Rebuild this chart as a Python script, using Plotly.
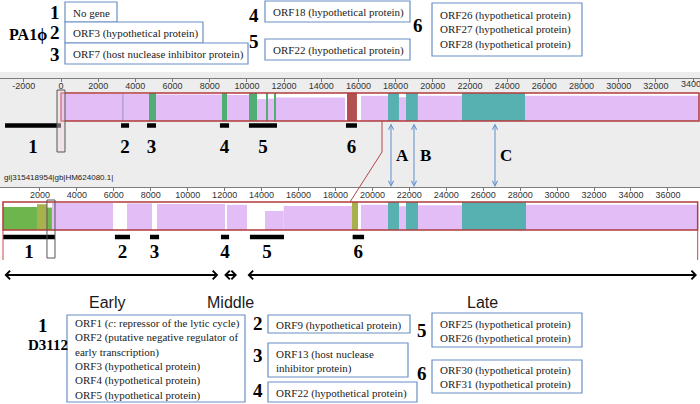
import plotly.graph_objects as go

# ---------------- data ----------------
top_genome_len = 34320      # PA1phi, bp
bot_genome_len = 37611      # D3112, bp

top_ticks = [-2000, 0, 2000, 4000, 6000, 8000, 10000, 12000, 14000, 16000, 18000,
             20000, 22000, 24000, 26000, 28000, 30000, 32000, 34000]
bot_ticks = [2000, 4000, 6000, 8000, 10000, 12000, 14000, 16000, 18000, 20000,
             22000, 24000, 26000, 28000, 30000, 32000, 34000, 36000]

# aligned blocks / similarity segments, PA1phi track
top_seg_start = [0, 3300, 3370, 4734, 5110, 8660, 8930, 10113, 10543, 11030, 11135,
                 11460, 11565, 15385, 16140, 17590, 18180, 18560, 19200, 21570, 24960]
top_seg_end = [3300, 3370, 4734, 5110, 8660, 8930, 10113, 10543, 11030, 11135, 11460,
               11565, 15280, 15920, 17590, 18180, 18560, 19200, 21570, 24960, 34320]
top_seg_kind = ['purple', 'thin', 'purple', 'green', 'purple', 'green', 'purple', 'green',
                'purple', 'green', 'purple', 'green', 'purple', 'red', 'purple', 'teal',
                'purple', 'teal', 'purple', 'teal', 'purple']
top_seg_height = [0.97, 0.97, 0.96, 1.0, 0.95, 1.0, 0.93, 1.0, 0.78, 1.0, 0.8, 1.0,
                  0.84, 1.0, 0.9, 1.0, 0.85, 1.0, 0.9, 1.0, 0.9]

# D3112 track
bot_seg_start = [0, 1840, 2380, 2650, 6715, 8338, 12130, 14185, 15200, 18895, 19380,
                 20845, 21440, 21820, 22470, 24850, 28316]
bot_seg_end = [1840, 2380, 2650, 5955, 8067, 12020, 13210, 15200, 18895, 19220, 20845,
               21440, 21820, 22470, 24850, 28316, 37611]
bot_seg_kind = ['lgreen', 'olive', 'lgreen', 'purple', 'purple', 'purple', 'purple',
                'purple', 'purple', 'olive', 'purple', 'teal', 'purple', 'teal', 'purple',
                'teal', 'purple']
bot_seg_height = [0.82, 0.92, 0.8, 0.96, 0.95, 0.93, 0.9, 0.68, 0.86, 1.0, 0.9, 1.0,
                  0.85, 1.0, 0.88, 1.0, 0.9]

# numbered regions (black bars)
top_orf_start = [-3010, 3230, 4630, 8550, 10110, 15330]
top_orf_end = [0, 3660, 5110, 9040, 11620, 15920]
bot_orf_start = [0, 6060, 7960, 11800, 13370, 18930]
bot_orf_end = [2815, 6875, 8450, 12240, 15215, 19550]
orf_labels = ['1', '2', '3', '4', '5', '6']

# LCB connector and homologous blocks A, B, C
lcb_top_bp = 17267
lcb_bot_bp = 18787
abc_labels = ['A', 'B', 'C']
abc_top_bp = [17752, 18989, 23346]

# transcription phases on D3112
phase_names = ['Early', 'Middle', 'Late']
phase_start = [0, 11895, 13157]
phase_end = [11657, 12669, 37575]
phase_label_bp = [5630, 12290, 25940]

cursor_top_bp = [-215, 215]
cursor_bot_bp = [2380, 2815]

genome_label = 'gi|315418954|gb|HM624080.1|'

top_box_nums = ['1', '2', '3', '4', '5', '6']
top_box_texts = [
    'No gene',
    'ORF3 (hypothetical protein)',
    'ORF7 (host nuclease inhibitor protein)',
    'ORF18 (hypothetical protein)',
    'ORF22 (hypothetical protein)',
    'ORF26 (hypothetical protein)<br>ORF27 (hypothetical protein)<br>ORF28 (hypothetical protein)',
]
bot_box_nums = ['1', '2', '3', '4', '5', '6']
bot_box_texts = [
    'ORF1 (<i>c</i>: repressor of the lytic cycle)<br>ORF2 (putative negative regulator of<br>'
    'early transcription)<br>ORF3 (hypothetical protein)<br>ORF4 (hypothetical protein)<br>'
    'ORF5 (hypothetical protein)',
    'ORF9 (hypothetical protein)',
    'ORF13 (host nuclease<br>inhibitor protein)',
    'ORF22 (hypothetical protein)',
    'ORF25 (hypothetical protein)<br>ORF26 (hypothetical protein)',
    'ORF30 (hypothetical protein)<br>ORF31 (hypothetical protein)',
]

# ---------------- layout geometry (pixels) ----------------
W, H = 700, 404
KIND_COLOR = {
    'purple': '#e2bdf6', 'thin': '#b9a3cf', 'green': '#4fae72', 'teal': '#56b1b0',
    'red': '#b2504f', 'olive': '#a7b24f', 'lgreen': '#6db54c',
}
SERIF = 'Liberation Serif'
SANS = 'Liberation Sans'
BOX_BLUE = '#6b8fc6'
RED = '#b33b3b'

# x scales: px = origin + bp * scale
TOP_ORIG, TOP_SCALE = 61.0, 0.01859
BOT_ORIG, BOT_SCALE = 3.0, 0.01847
top_range = [(0 - TOP_ORIG) / TOP_SCALE, (W - TOP_ORIG) / TOP_SCALE]
bot_range = [(0 - BOT_ORIG) / BOT_SCALE, (W - BOT_ORIG) / BOT_SCALE]

TOP_BOX = (93, 121)     # track top / bottom in px
BOT_BOX = (202, 230)
TRACK_H = 28.0
TOP_DOM = (88, 192)
BOT_DOM = (194, 315)


def ty(py):
    return (TOP_BOX[1] - py) / TRACK_H


def by(py):
    return (BOT_BOX[1] - py) / TRACK_H


def pxx(px):
    return px / W


def pyy(py):
    return 1 - py / H


def top_px(bp):
    return TOP_ORIG + bp * TOP_SCALE


def bot_px(bp):
    return BOT_ORIG + bp * BOT_SCALE


fig = go.Figure()

# similarity blocks
for starts, ends, kinds, hts, xa, ya in [
    (top_seg_start, top_seg_end, top_seg_kind, top_seg_height, 'x', 'y'),
    (bot_seg_start, bot_seg_end, bot_seg_kind, bot_seg_height, 'x2', 'y2'),
]:
    fig.add_trace(go.Bar(
        x=[(s + e) / 2 for s, e in zip(starts, ends)],
        y=hts, width=[e - s for s, e in zip(starts, ends)], base=0,
        marker=dict(color=[KIND_COLOR[k] for k in kinds], line=dict(width=0)),
        xaxis=xa, yaxis=ya, hoverinfo='skip', showlegend=False))

# black region bars + numbers
for starts, ends, xa, ya, bar_y, lab_y in [
    (top_orf_start, top_orf_end, 'x', 'y', ty(125.5), ty(148)),
    (bot_orf_start, bot_orf_end, 'x2', 'y2', by(237), by(253)),
]:
    xs, ys = [], []
    for s, e in zip(starts, ends):
        xs += [s, e, None]
        ys += [bar_y, bar_y, None]
    fig.add_trace(go.Scatter(x=xs, y=ys, mode='lines', line=dict(color='black', width=4.5),
                             xaxis=xa, yaxis=ya, hoverinfo='skip', showlegend=False))
    fig.add_trace(go.Scatter(
        x=[(s + e) / 2 for s, e in zip(starts, ends)], y=[lab_y] * len(starts),
        mode='text', text=['<b>%s</b>' % t for t in orf_labels],
        textfont=dict(family=SERIF, size=19, color='black'),
        xaxis=xa, yaxis=ya, hoverinfo='skip', showlegend=False, cliponaxis=False))

shapes = []
# grey Mauve panel
shapes.append(dict(type='rect', xref='paper', yref='paper', x0=0, x1=1,
                   y0=pyy(187), y1=pyy(72), fillcolor='#ededed', line=dict(width=0), layer='below'))
# white interiors of the tracks
shapes.append(dict(type='rect', xref='x', yref='y', x0=0, x1=top_genome_len, y0=0, y1=1,
                   fillcolor='white', line=dict(width=0), layer='below'))
shapes.append(dict(type='rect', xref='x2', yref='y2', x0=0, x1=bot_genome_len, y0=0, y1=1,
                   fillcolor='white', line=dict(width=0), layer='below'))
# red track borders
shapes.append(dict(type='rect', xref='x', yref='y', x0=0, x1=top_genome_len, y0=0, y1=1,
                   line=dict(color=RED, width=1.5), layer='above'))
shapes.append(dict(type='rect', xref='x2', yref='y2', x0=0, x1=bot_genome_len, y0=0, y1=1,
                   line=dict(color=RED, width=1.5), layer='above'))
# red end lines of the lower genome
for bp in [0, bot_genome_len]:
    shapes.append(dict(type='line', xref='x2', yref='y2', x0=bp, x1=bp, y0=0, y1=by(260),
                       line=dict(color='#c84a4a', width=1)))
# cursor rectangles
shapes.append(dict(type='rect', xref='x', yref='y', x0=cursor_top_bp[0], x1=cursor_top_bp[1],
                   y0=ty(152), y1=ty(90), fillcolor='rgba(245,215,225,0.45)',
                   line=dict(color='#555', width=1), layer='above'))
shapes.append(dict(type='rect', xref='x2', yref='y2', x0=cursor_bot_bp[0], x1=cursor_bot_bp[1],
                   y0=by(258), y1=by(200), fillcolor='rgba(0,0,0,0)',
                   line=dict(color='#555', width=1), layer='above'))
# LCB connector line
cx1 = pxx(top_px(lcb_top_bp))
cx2 = pxx(bot_px(lcb_bot_bp))
shapes.append(dict(type='path', xref='paper', yref='paper',
                   path='M %f,%f L %f,%f L %f,%f' % (cx1, pyy(121), cx1, pyy(152), cx2, pyy(202)),
                   line=dict(color='#b04848', width=1)))

annotations = []
# A, B, C double arrows
for lab, bp in zip(abc_labels, abc_top_bp):
    annotations.append(dict(x=bp, y=ty(187), xref='x', yref='y', ax=bp, ay=ty(122),
                            axref='x', ayref='y', text='', showarrow=True, arrowhead=5,
                            startarrowhead=5, arrowside='end+start', arrowsize=1,
                            startarrowsize=1, arrowwidth=1, arrowcolor='#5f8fcc'))
    annotations.append(dict(x=bp + 11 / TOP_SCALE, y=ty(155), xref='x', yref='y',
                            text='<b>%s</b>' % lab, showarrow=False,
                            xanchor='center', yanchor='middle',
                            font=dict(family=SERIF, size=17, color='black')))

# phase arrows
for name, s, e, lb in zip(phase_names, phase_start, phase_end, phase_label_bp):
    annotations.append(dict(x=e, y=by(275), xref='x2', yref='y2', ax=s, ay=by(275),
                            axref='x2', ayref='y2', text='', showarrow=True, arrowhead=4,
                            startarrowhead=4, arrowside='end+start', arrowsize=0.75,
                            startarrowsize=0.75, arrowwidth=2.2, arrowcolor='black'))
    annotations.append(dict(x=lb, y=by(302), xref='x2', yref='y2', text=name, showarrow=False,
                            xanchor='center', yanchor='middle',
                            font=dict(family=SANS, size=16, color='#1a1a1a')))

# last top ruler label, cut by the right edge as in the reference
annotations.append(dict(x=top_ticks[-1], y=pyy(84.5), xref='x', yref='paper',
                        text=str(top_ticks[-1]), showarrow=False, xanchor='center',
                        yanchor='middle', font=dict(family=SANS, size=9, color='#333')))

annotations.append(dict(x=pxx(2), y=pyy(178), xref='paper', yref='paper', text=genome_label,
                        xanchor='left', yanchor='middle', showarrow=False,
                        font=dict(family=SANS, size=8, color='#222')))

# text boxes (left, top, right, bottom in px) and number positions
top_boxes = [(65, 2, 117, 22), (65, 22, 203, 43), (65, 43, 248, 64),
             (265, 1, 410, 22), (265, 39, 410, 60), (432, 3, 582, 56)]
top_num_pos = [(55, 12), (55, 33), (55, 54), (254, 15), (254, 42), (418, 25)]
bot_boxes = [(67, 315, 245, 402), (268, 315, 410, 333), (268, 343, 408, 377),
             (268, 382, 417, 402), (432, 313, 582, 347), (432, 360, 582, 393)]
bot_num_pos = [(43, 325), (258, 323), (258, 355), (258, 390), (422, 330), (422, 373)]

for boxes, texts, nums, npos in [(top_boxes, top_box_texts, top_box_nums, top_num_pos),
                                 (bot_boxes, bot_box_texts, bot_box_nums, bot_num_pos)]:
    for (l, t, r, b), txt, n, (nx, nyp) in zip(boxes, texts, nums, npos):
        shapes.append(dict(type='rect', xref='paper', yref='paper', x0=pxx(l), x1=pxx(r),
                           y0=pyy(b), y1=pyy(t), fillcolor='white',
                           line=dict(color=BOX_BLUE, width=1.2)))
        annotations.append(dict(x=pxx(l + 6), y=pyy((t + b) / 2 + 1), xref='paper', yref='paper',
                                text=txt, xanchor='left', yanchor='middle', align='left',
                                showarrow=False, font=dict(family=SERIF, size=11, color='#222')))
        annotations.append(dict(x=pxx(nx), y=pyy(nyp), xref='paper', yref='paper',
                                text='<b>%s</b>' % n, showarrow=False,
                                xanchor='center', yanchor='middle',
                                font=dict(family=SERIF, size=19, color='black')))

annotations.append(dict(x=pxx(28), y=pyy(35), xref='paper', yref='paper', text='<b>PA1\u03d5</b>',
                        showarrow=False, xanchor='center', yanchor='middle',
                        font=dict(family=SERIF, size=16, color='black')))
annotations.append(dict(x=pxx(48), y=pyy(345), xref='paper', yref='paper', text='<b>D3112</b>',
                        showarrow=False, xanchor='center', yanchor='middle',
                        font=dict(family=SERIF, size=15, color='black')))

axis_common = dict(showgrid=False, zeroline=False, showline=True, linecolor='#7d7d7d',
                   linewidth=1, ticks='outside', ticklen=3, tickcolor='#777', side='bottom',
                   tickfont=dict(family=SANS, size=9, color='#333'), anchor='free',
                   ticklabelstandoff=-4, automargin=False, fixedrange=True)

fig.update_layout(
    width=W, height=H, margin=dict(l=0, r=0, t=0, b=0),
    paper_bgcolor='white', plot_bgcolor='rgba(0,0,0,0)',
    barmode='overlay', showlegend=False,
    xaxis=dict(domain=[0, 1], range=top_range, position=pyy(78),
               tickvals=top_ticks, ticktext=[str(v) for v in top_ticks], **axis_common),
    xaxis2=dict(domain=[0, 1], range=bot_range, position=pyy(187),
                tickvals=bot_ticks, ticktext=[str(v) for v in bot_ticks], **axis_common),
    yaxis=dict(domain=[pyy(TOP_DOM[1]), pyy(TOP_DOM[0])], range=[ty(TOP_DOM[1]), ty(TOP_DOM[0])],
               visible=False, fixedrange=True, anchor='x'),
    yaxis2=dict(domain=[pyy(BOT_DOM[1]), pyy(BOT_DOM[0])], range=[by(BOT_DOM[1]), by(BOT_DOM[0])],
                visible=False, fixedrange=True, anchor='x2'),
    shapes=shapes, annotations=annotations,
)

fig.write_html('out.html', post_script="document.body.style.margin='0';",
               config={'displayModeBar': False})
